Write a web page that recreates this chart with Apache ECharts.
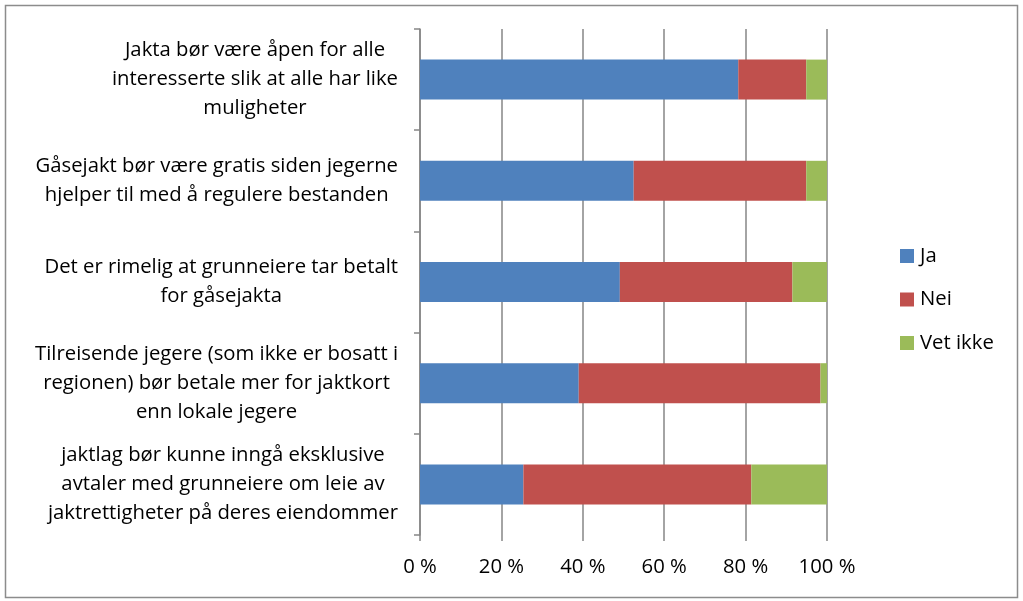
<!DOCTYPE html>
<html>
<head>
<meta charset="utf-8">
<script src="https://cdn.jsdelivr.net/npm/echarts@6/dist/echarts.min.js"></script>
<style>
html,body{margin:0;padding:0;background:#fff;}
#c{width:1023px;height:601px;}
</style>
</head>
<body>
<div id="c"></div>
<script>
const categories = [
  ["Jakta bør være åpen for alle", "interesserte slik at alle har like", "muligheter"],
  ["Gåsejakt bør være gratis siden jegerne", "hjelper til med å regulere bestanden"],
  ["Det er rimelig at grunneiere tar betalt", "for gåsejakta"],
  ["Tilreisende jegere (som ikke er bosatt i", "regionen) bør betale mer for jaktkort", "enn lokale jegere"],
  ["jaktlag bør kunne inngå eksklusive", "avtaler med grunneiere om leie av", "jaktrettigheter på deres eiendommer"]
];
const seriesNames = ["Ja", "Nei", "Vet ikke"];
const jaValues = [78.2, 52.5, 49.1, 39.0, 25.4];
const neiValues = [16.7, 42.4, 42.4, 59.4, 56.0];
const vetIkkeValues = [5.1, 5.1, 8.5, 1.6, 18.6];
const xTicks = [0, 20, 40, 60, 80, 100];

const FONT = 'Open Sans';
const FS = 20.3;
const colors = ['#4F81BD', '#C0504D', '#9BBB59'];
const catKeys = categories.map((c, i) => 'c' + i);

const chart = echarts.init(document.getElementById('c'), null, {renderer: 'canvas'});
const valuesList = [jaValues, neiValues, vetIkkeValues];
chart.setOption({
  animation: false,
  color: colors,
  graphic: [{
    type: 'rect', left: 3, top: 3,
    shape: {width: 1012, height: 592},
    style: {fill: 'none', stroke: '#8c8c8c', lineWidth: 1.5},
    silent: true
  }],
  grid: {left: 420, right: 196, top: 29, bottom: 66, containLabel: false},
  legend: {
    orient: 'vertical', left: 895, top: 241,
    itemWidth: 14, itemHeight: 14, itemGap: 23.5,
    icon: 'rect',
    textStyle: {fontFamily: FONT, fontSize: FS, lineHeight: 20, color: '#000', padding: [0, 0, 0, 1]},
    data: seriesNames
  },
  xAxis: {
    type: 'value', min: 0, max: 100, interval: 20,
    axisLine: {show: false},
    axisTick: {show: true, length: 6, lineStyle: {color: '#868686', width: 1.5}},
    splitLine: {show: true, lineStyle: {color: '#868686', width: 1.5}},
    axisLabel: {
      fontFamily: FONT, fontSize: FS, color: '#000', margin: 22,
      formatter: v => xTicks.includes(v) ? v + ' %' : ''
    }
  },
  yAxis: {
    type: 'category', inverse: true,
    data: catKeys,
    axisLine: {show: true, lineStyle: {color: '#868686', width: 1.5}},
    axisTick: {show: true, length: 6, inside: false, lineStyle: {color: '#868686', width: 1.5}},
    axisLabel: {
      margin: 22, align: 'right',
      fontFamily: FONT, fontSize: FS, color: '#000', lineHeight: 29,
      formatter: (v, idx) => categories[idx].map(l => '{a|' + l + '}').join('\n'),
      rich: {a: {align: 'center', fontFamily: FONT, fontSize: FS, color: '#000', lineHeight: 29}}
    }
  },
  series: seriesNames.map((n, i) => ({
    name: n, type: 'bar', stack: 'total',
    barWidth: 40,
    data: valuesList[i]
  }))
});
</script>
</body>
</html>
